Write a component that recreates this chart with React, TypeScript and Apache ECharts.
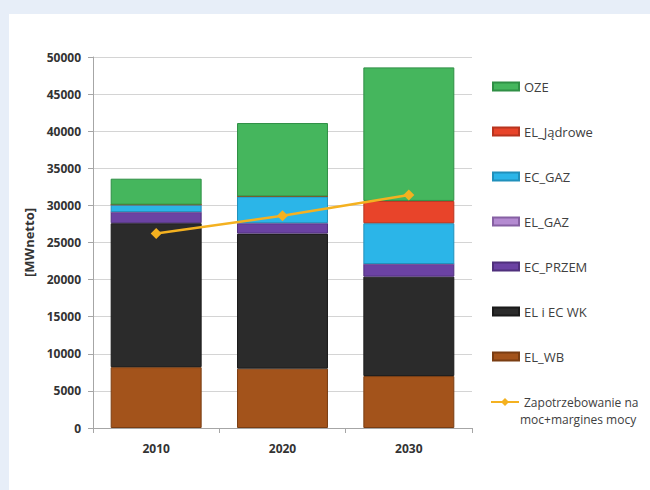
import React, { useEffect, useRef } from "react";
import * as echarts from "echarts";

const categories = ["2010", "2020", "2030"];
const elWB = [8200, 8000, 7000];
const elEcWK = [19400, 18200, 13400];
const ecPrzem = [1500, 1400, 1700];
const elGaz = [0, 0, 0];
const ecGaz = [1000, 3600, 5500];
const elJadrowe = [0, 0, 3000];
const oze = [3500, 9900, 18000];
const demand = [26200, 28600, 31400];
const yTicks = [0, 50000, 5000];

const barSeries = [
  { name: "EL_WB", data: elWB, color: "#a3531b", border: "#7a3d12" },
  { name: "EL i EC WK", data: elEcWK, color: "#2b2b2b", border: "#1a1a1a" },
  { name: "EC_PRZEM", data: ecPrzem, color: "#6b42a3", border: "#4f2f7c" },
  { name: "EL_GAZ", data: elGaz, color: "#b48bd1", border: "#8660a3" },
  { name: "EC_GAZ", data: ecGaz, color: "#2bb5e8", border: "#2090bb" },
  { name: "EL_Jądrowe", data: elJadrowe, color: "#e8442a", border: "#b8341f" },
  { name: "OZE", data: oze, color: "#45b65d", border: "#2f8f45" },
];
const lineName = "Zapotrzebowanie na";
const lineName2 = "moc+margines mocy";

export default function App() {
  const ref = useRef<HTMLDivElement>(null);
  useEffect(() => {
    if (!ref.current) return;
    const chart = echarts.init(ref.current, null, { renderer: "svg" });
    const series: any[] = barSeries.map((s) => ({
      name: s.name,
      type: "bar",
      stack: "total",
      barWidth: "72%",
      data: s.data,
      itemStyle: { color: s.color, borderColor: s.border, borderWidth: 1 },
    }));
    series.push({
      name: lineName,
      type: "line",
      data: demand,
      symbol: "diamond",
      symbolSize: 11,
      lineStyle: { color: "#f4b120", width: 2.5 },
      itemStyle: { color: "#f4b120" },
      z: 5,
    });
    const legendText = { color: "#404040", fontSize: 13, fontFamily: "Open Sans", lineHeight: 15 };
    chart.setOption({
      animation: false,
      backgroundColor: "#e7eef8",
      graphic: [
        {
          type: "rect",
          shape: { x: 9, y: 14, width: 650, height: 490 },
          style: { fill: "#ffffff" },
          z: -10,
        },
        {
          type: "text",
          left: 520,
          top: 412,
          style: { text: lineName2, fill: "#404040", fontSize: 12, lineHeight: 14, fontFamily: "Open Sans" },
        },
      ],
      grid: { left: 93, right: 178, top: 57, bottom: 62, containLabel: false },
      legend: [
        {
          orient: "vertical",
          left: 487,
          top: 74,
          itemWidth: 26,
          itemHeight: 8,
          itemGap: 30,
          icon: "rect",
          data: ["OZE", "EL_Jądrowe", "EC_GAZ", "EL_GAZ", "EC_PRZEM", "EL i EC WK", "EL_WB"],
          textStyle: legendText,
        },
        {
          orient: "vertical",
          left: 485,
          top: 390,
          itemWidth: 28,
          itemHeight: 10,
          data: [lineName],
          textStyle: { ...legendText, fontSize: 12, lineHeight: 14 },
        },
      ],
      xAxis: {
        type: "category",
        data: categories,
        axisLine: { lineStyle: { color: "#a6a6a6" } },
        axisTick: { show: true, alignWithLabel: false, length: 5, lineStyle: { color: "#a6a6a6" } },
        axisLabel: { color: "#333", fontWeight: "bold", fontSize: 12, margin: 14, fontFamily: "Open Sans" },
      },
      yAxis: {
        type: "value",
        min: yTicks[0],
        max: yTicks[1],
        interval: yTicks[2],
        name: "[MWnetto]",
        nameLocation: "middle",
        nameGap: 56,
        nameTextStyle: { color: "#333", fontWeight: "bold", fontSize: 13, fontFamily: "Open Sans" },
        axisLine: { show: true, lineStyle: { color: "#a6a6a6" } },
        axisTick: { show: true, length: 5, lineStyle: { color: "#a6a6a6" } },
        splitLine: { lineStyle: { color: "#d4d4d4" } },
        axisLabel: {
          color: "#333",
          fontWeight: "bold",
          fontSize: 12,
          margin: 12,
          fontFamily: "Open Sans",
          formatter: (v: number) => String(v),
        },
      },
      series,
    });
    return () => chart.dispose();
  }, []);
  return (
    <div
      ref={ref}
      style={{ position: "fixed", left: 0, top: 0, width: 650, height: 490 }}
    />
  );
}
